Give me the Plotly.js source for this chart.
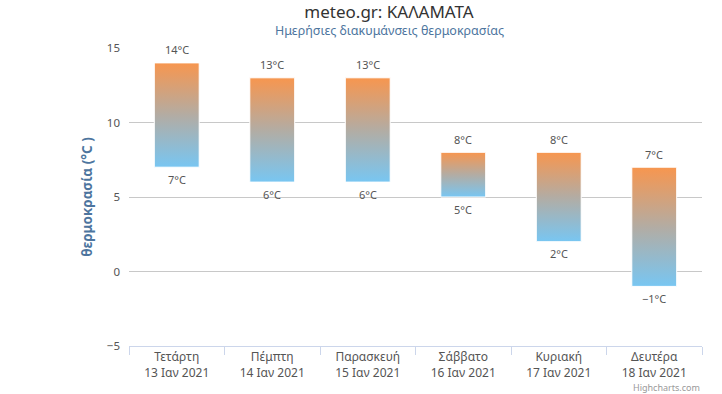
<!DOCTYPE html>
<html>
<head>
<meta charset="utf-8">
<script src="https://cdn.plot.ly/plotly-3.0.1.min.js"></script>
<style>html,body{margin:0;padding:0;background:#fff}#chart{width:722px;height:394px}</style>
</head>
<body>
<div id="chart"></div>
<script>
const days = ["Τετάρτη<br>13 Ιαν 2021","Πέμπτη<br>14 Ιαν 2021","Παρασκευή<br>15 Ιαν 2021","Σάββατο<br>16 Ιαν 2021","Κυριακή<br>17 Ιαν 2021","Δευτέρα<br>18 Ιαν 2021"];
const tMin = [7, 6, 6, 5, 2, -1];
const tMax = [14, 13, 13, 8, 8, 7];
const yTicks = [-5, 0, 5, 10, 15];

const fmt = v => (v < 0 ? "\u2212" + Math.abs(v) : String(v)) + "°C";
const FONT = "Noto Sans, DejaVu Sans, sans-serif";

const traces = [
  {
    type: "bar", x: days, y: tMax.map((h, i) => h - tMin[i]), base: tMin,
    width: 0.47,
    marker: {color: "#f0a070", line: {color: "#ffffff", width: 1}},
    hoverinfo: "skip"
  }
];

const labelAnns = [];
days.forEach((d, i) => {
  labelAnns.push({x: d, y: tMax[i], xref: "x", yref: "y", text: fmt(tMax[i]), showarrow: false,
    yanchor: "middle", yshift: 13, font: {family: FONT, size: 11, color: "#555555"}});
  labelAnns.push({x: d, y: tMin[i], xref: "x", yref: "y", text: fmt(tMin[i]), showarrow: false,
    yanchor: "middle", yshift: -12, font: {family: FONT, size: 11, color: "#555555"}});
});

const layout = {
  width: 722, height: 394,
  margin: {l: 129, r: 20, t: 48, b: 48},
  paper_bgcolor: "#ffffff", plot_bgcolor: "#ffffff",
  showlegend: false,
  font: {family: FONT, color: "#666666"},
  title: {text: "meteo.gr: ΚΑΛΑΜΑΤΑ", xref: "container", x: 389 / 722, xanchor: "center",
          yref: "container", y: 1 - 12.5 / 394, yanchor: "middle",
          font: {family: FONT, size: 17, color: "#333333"}},
  annotations: labelAnns.concat([
    {text: "Ημερήσιες διακυμάνσεις θερμοκρασίας", xref: "paper", yref: "paper", x: (389 - 129) / 573, y: 1.0,
     yshift: 18, xanchor: "center", yanchor: "middle", showarrow: false,
     font: {family: FONT, size: 12.5, color: "#4d759e"}},
    {text: "Highcharts.com", xref: "paper", yref: "paper", x: 1, y: 0, yshift: -41,
     xanchor: "right", yanchor: "middle", showarrow: false,
     font: {family: FONT, size: 9, color: "#999999"}}
  ]),
  xaxis: {
    type: "category", showgrid: false, zeroline: false,
    showline: true, linecolor: "#ccd6eb", linewidth: 1,
    ticks: "outside", tickson: "boundaries", ticklen: 8, tickcolor: "#ccd6eb",
    tickfont: {family: FONT, size: 12, color: "#555555"},
    range: [-0.5, 5.5]
  },
  yaxis: {
    range: [-5, 15], tickvals: yTicks, ticktext: yTicks.map(v => v < 0 ? "\u2212" + Math.abs(v) : String(v)),
    showgrid: true, gridcolor: "#c8c8c8", gridwidth: 1, zeroline: false,
    ticks: "", ticklabelstandoff: 8,
    tickfont: {family: FONT, size: 11.5, color: "#555555"},
    title: {text: "<b>θερμοκρασία (°C )</b>", standoff: 11, font: {family: FONT, size: 13.5, color: "#4d759e"}}
  }
};

Plotly.newPlot("chart", traces, layout, {displayModeBar: false, staticPlot: true}).then(gd => {
  const svg = gd.querySelector(".main-svg");
  let defs = svg.querySelector("defs");
  const ns = "http://www.w3.org/2000/svg";
  if (!defs) { defs = document.createElementNS(ns, "defs"); svg.insertBefore(defs, svg.firstChild); }
  const lg = document.createElementNS(ns, "linearGradient");
  lg.setAttribute("id", "tempGrad");
  lg.setAttribute("x1", "0"); lg.setAttribute("y1", "0"); lg.setAttribute("x2", "0"); lg.setAttribute("y2", "1");
  [["0%", "#f7964f"], ["50%", "#b3aca3"], ["100%", "#78c6f2"]].forEach(([o, c]) => {
    const s = document.createElementNS(ns, "stop");
    s.setAttribute("offset", o); s.setAttribute("stop-color", c);
    lg.appendChild(s);
  });
  defs.appendChild(lg);
  gd.querySelectorAll(".barlayer .point path").forEach(p => { p.style.fill = "url(#tempGrad)"; p.style.fillOpacity = 1; });
});
</script>
</body>
</html>
